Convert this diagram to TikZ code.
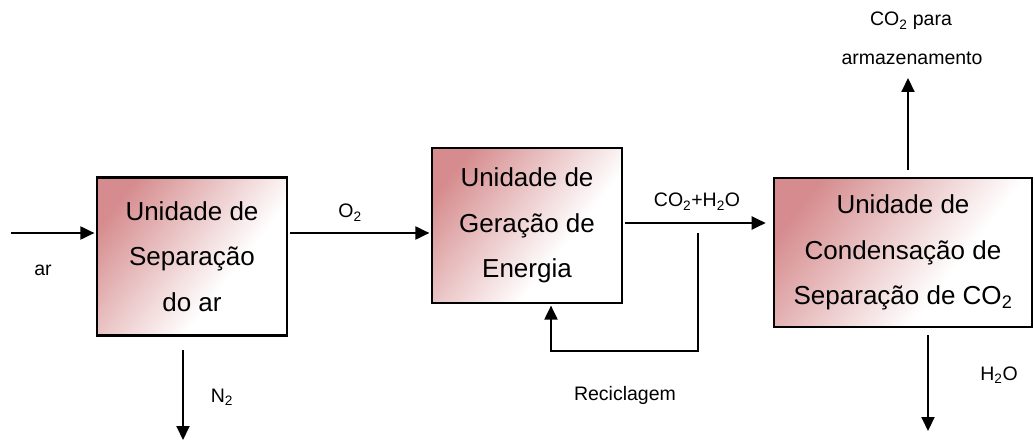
\documentclass[tikz,border=0pt]{standalone}
\usepackage{fontspec}
\setmainfont{Liberation Sans}
\usetikzlibrary{arrows.meta}
\definecolor{pinkc}{RGB}{214,140,142}
\pgfdeclarehorizontalshading{boxfade}{100bp}{color(0bp)=(pinkc); color(24bp)=(pinkc); color(62bp)=(white); color(100bp)=(white)}
\begin{document}
\begin{tikzpicture}[x=1pt,y=-1pt,
  unit/.style={draw=black, line width=2.6pt, shading=boxfade, shading angle=-38,
    align=center, font=\fontsize{26}{45.5}\selectfont, inner sep=0pt},
  lbl/.style={font=\fontsize{19.5}{24}\selectfont, inner sep=0pt, anchor=base},
  arr/.style={line width=2pt, -{Triangle[length=14pt,width=13pt]}}]
\useasboundingbox (0,0) rectangle (1035,443);
% boxes
\node[unit, minimum width=190pt, minimum height=158pt] (b1) at (192,256.5) {Unidade de\\Separação\\do ar};
\node[unit, minimum width=190pt, minimum height=155pt] (b2) at (527,225.5) {Unidade de\\Geração de\\Energia};
\node[unit, minimum width=258pt, minimum height=149pt] (b3) at (903,252.5) {Unidade de\\Condensação de\\Separação de CO\textsubscript{2}};
% helper coordinates
\coordinate (arS) at (11,233);
\coordinate (o2y) at (0,233);
\coordinate (cy) at (0,223);
\coordinate (rcA) at (698,233);
\coordinate (rcB) at (551,351);
\coordinate (n2a) at (183,350);
\coordinate (n2b) at (183,440);
\coordinate (h2a) at (928,335);
\coordinate (h2b) at (928,431);
\coordinate (coa) at (908,170);
\coordinate (cob) at (908,78);
% connectors
\draw[arr, shorten >=1.3pt] (arS) -- (arS -| b1.west);
\draw[arr, shorten <=1.3pt, shorten >=1.3pt] (b1.east |- o2y) -- (b2.west |- o2y);
\draw[arr, shorten <=1.3pt, shorten >=7pt] (b2.east |- cy) -- (b3.west |- cy);
\draw[arr, shorten >=1.3pt] (rcA) |- (rcB) -- (rcB |- b2.south);
\draw[arr] (n2a) -- (n2b);
\draw[arr] (h2a) -- (h2b);
\draw[arr] (coa) -- (cob);
% labels
\node[lbl] (lar) at (43,276) {ar};
\node[lbl] (ln2) at (222,402) {N\textsubscript{2}};
\node[lbl] (lo2) at (350,218) {O\textsubscript{2}};
\node[lbl] (lco) at (697,207) {CO\textsubscript{2}+H\textsubscript{2}O};
\node[lbl] (lrec) at (625,400) {Reciclagem};
\node[lbl] (lh2o) at (999,380) {H\textsubscript{2}O};
\node[lbl] (lcp) at (911,26) {CO\textsubscript{2} para};
\node[lbl] (larm) at (912,65) {armazenamento};
\end{tikzpicture}
\end{document}
